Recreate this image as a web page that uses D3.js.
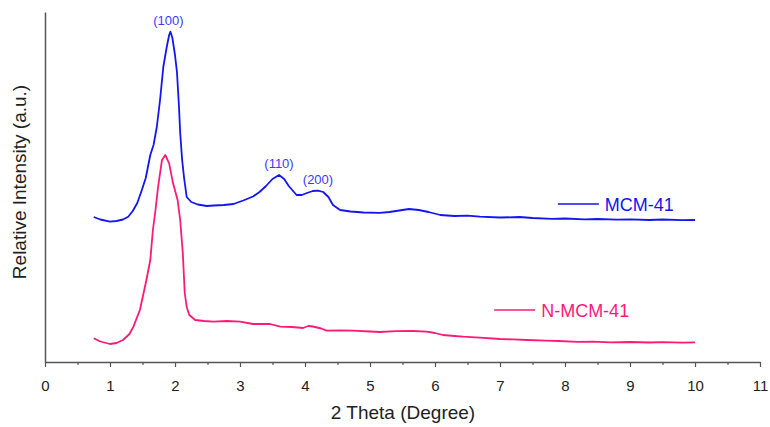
<!DOCTYPE html>
<html>
<head>
<meta charset="utf-8">
<script src="https://cdn.jsdelivr.net/npm/d3@7"></script>
<style>
  body { margin: 0; background: #fff; }
  svg { font-family: Arial, "Liberation Sans", sans-serif; }
</style>
</head>
<body>
<div id="my_dataviz"></div>
<script>
// 2 theta values and intensities (a.u.)
var mcmX = [0.75, 0.85, 1.0, 1.1, 1.2, 1.28, 1.35, 1.42, 1.49, 1.55, 1.62, 1.67, 1.72, 1.77, 1.82, 1.87, 1.91, 1.93, 1.96, 2.0,
  2.03, 2.06, 2.08, 2.11, 2.14, 2.18, 2.25, 2.35, 2.49, 2.6, 2.75, 2.9, 3.05, 3.2, 3.3, 3.4, 3.5, 3.6, 3.68, 3.75,
  3.87, 3.95, 4.03, 4.12, 4.2, 4.28, 4.36, 4.43, 4.54, 4.7, 4.9, 5.15, 5.3, 5.45, 5.6, 5.75, 5.9, 6.08, 6.3, 6.5, 6.69,
  7.0, 7.3, 7.5, 7.8, 8.0, 8.3, 8.5, 8.8, 9.0, 9.3, 9.5, 9.8, 10.0];
var mcmY = [145, 142.5, 140.3, 141, 142.5, 145.3, 151, 159, 172, 184, 207, 217, 235, 262, 295, 314, 327, 330.3, 324, 307,
  290, 257, 229, 202, 184, 165, 160, 157.5, 156, 156.5, 157, 158, 161.5, 165.5, 170, 176, 183, 187, 183, 176,
  167, 167, 169, 171, 171.3, 170, 165, 157, 152, 150.5, 149.5, 149.2, 150, 151.5, 153, 152, 150, 147, 146, 146.3, 145.3,
  144.5, 145, 144, 143.2, 143.5, 142.6, 143, 142.3, 142.7, 142, 142.5, 141.8, 142];

var nmcmX = [0.75, 0.85, 1.0, 1.1, 1.2, 1.3, 1.36, 1.46, 1.56, 1.62, 1.66, 1.7, 1.74, 1.8, 1.85, 1.91, 1.97, 2.04, 2.08, 2.12,
  2.15, 2.18, 2.22, 2.31, 2.45, 2.59, 2.8, 3.0, 3.2, 3.46, 3.62, 3.8, 3.97, 4.05, 4.12, 4.25, 4.33, 4.55, 4.74, 5.0,
  5.15, 5.4, 5.66, 5.87, 6.0, 6.12, 6.3, 6.43, 6.69, 7.0, 7.2, 7.41, 7.7, 7.9, 8.2, 8.43, 8.7, 9.0, 9.3, 9.5, 9.8, 10.0];
var nmcmY = [23.7, 20.5, 18, 19, 22, 28, 35.3, 52, 82, 102, 132, 152, 175.3, 202, 207, 198.7, 178.7, 162, 142, 109,
  69, 55, 47, 42, 41, 40.3, 41, 40.3, 38, 38, 35.3, 35, 34, 36, 35.5, 33.5, 31.3, 31.5, 31.3, 30.5,
  30, 30.8, 31, 30.3, 29, 27, 26, 25.3, 24.3, 23, 22.6, 22, 21.4, 21, 20.2, 20.3, 19.7, 20, 19.5, 19.8, 19.4, 19.7];

var xTicks = [0, 1, 2, 3, 4, 5, 6, 7, 8, 9, 10, 11];
var xMinorTicks = [0.5, 1.5, 2.5, 3.5, 4.5, 5.5, 6.5, 7.5, 8.5, 9.5, 10.5];

var peakLabels = ["(100)", "(110)", "(200)"];
var peakX = [1.93, 3.6, 4.2];
var peakY = [330.3, 187, 171.3];

var seriesNames = ["MCM-41", "N-MCM-41"];
var colors = ["#1515f0", "#ff1a7a"];

var margin = { top: 12, right: 10, bottom: 65, left: 45 },
    width = 770 - margin.left - margin.right,
    height = 427 - margin.top - margin.bottom;

var svg = d3.select("#my_dataviz")
  .append("svg")
  .attr("width", 770)
  .attr("height", 427);

var chart = svg.append("g")
  .attr("transform", "translate(" + margin.left + "," + margin.top + ")");

var x = d3.scaleLinear().domain([0, 11]).range([0, width]);
var y = d3.scaleLinear().domain([0, 350]).range([height, 0]);

// minor ticks first so the major axis draws on top
chart.append("g")
  .attr("transform", "translate(0," + height + ")")
  .call(d3.axisBottom(x).tickValues(xMinorTicks).tickSize(3).tickSizeOuter(0).tickFormat(""))
  .call(function (g) { g.select(".domain").remove(); })
  .selectAll("line").attr("stroke", "#555").attr("stroke-width", 1.2);

var xAxis = chart.append("g")
  .attr("transform", "translate(0," + height + ")")
  .call(d3.axisBottom(x).tickValues(xTicks).tickSize(5).tickPadding(13).tickSizeOuter(0).tickFormat(d3.format("d")));
xAxis.select(".domain").attr("stroke", "#555").attr("stroke-width", 1.5);
xAxis.selectAll(".tick line").attr("stroke", "#555").attr("stroke-width", 1.2);
xAxis.selectAll("text")
  .style("font-size", "15px")
  .style("font-family", "Arial, 'Liberation Sans', sans-serif")
  .attr("fill", "#222");

var yAxis = chart.append("g")
  .call(d3.axisLeft(y).tickValues([]).tickSizeOuter(0));
yAxis.select(".domain").attr("stroke", "#555").attr("stroke-width", 1.5);

// axis titles
svg.append("text")
  .attr("x", 403)
  .attr("y", 419)
  .attr("text-anchor", "middle")
  .style("font-size", "19px")
  .attr("fill", "#222")
  .text("2 Theta (Degree)");

svg.append("text")
  .attr("transform", "translate(26,182) rotate(-90)")
  .attr("text-anchor", "middle")
  .style("font-size", "19px")
  .attr("fill", "#222")
  .text("Relative Intensity (a.u.)");

var line = d3.line()
  .x(function (d) { return x(d[0]); })
  .y(function (d) { return y(d[1]); });

var dataReady = [
  { name: seriesNames[0], values: d3.zip(mcmX, mcmY) },
  { name: seriesNames[1], values: d3.zip(nmcmX, nmcmY) }
];

chart.selectAll("myLines")
  .data(dataReady)
  .enter()
  .append("path")
  .attr("d", function (d) { return line(d.values); })
  .attr("stroke", function (d, i) { return colors[i]; })
  .style("stroke-width", 1.8)
  .style("stroke-linejoin", "round")
  .style("fill", "none");

// peak index labels
chart.selectAll("myPeaks")
  .data(peakLabels)
  .enter()
  .append("text")
  .attr("x", function (d, i) { return x(peakX[i]) - (i == 0 ? 2 : 0); })
  .attr("y", function (d, i) { return y(peakY[i]) - 7; })
  .attr("text-anchor", "middle")
  .style("font-size", "13px")
  .attr("fill", "#3a3aff")
  .text(function (d) { return d; });

// legend, placed next to each trace
var legendX = [7.89, 6.91];
var legendY = [158, 52];
var legend = chart.selectAll("myLegend")
  .data(seriesNames)
  .enter()
  .append("g");

legend.append("line")
  .attr("x1", function (d, i) { return x(legendX[i]); })
  .attr("x2", function (d, i) { return x(legendX[i]) + 41; })
  .attr("y1", function (d, i) { return y(legendY[i]); })
  .attr("y2", function (d, i) { return y(legendY[i]); })
  .attr("stroke", function (d, i) { return colors[i]; })
  .attr("stroke-width", 1.5);

legend.append("text")
  .attr("x", function (d, i) { return x(legendX[i]) + 47; })
  .attr("y", function (d, i) { return y(legendY[i]) + 6.5; })
  .style("font-size", "18px")
  .attr("fill", function (d, i) { return colors[i]; })
  .text(function (d) { return d; });
</script>
</body>
</html>
